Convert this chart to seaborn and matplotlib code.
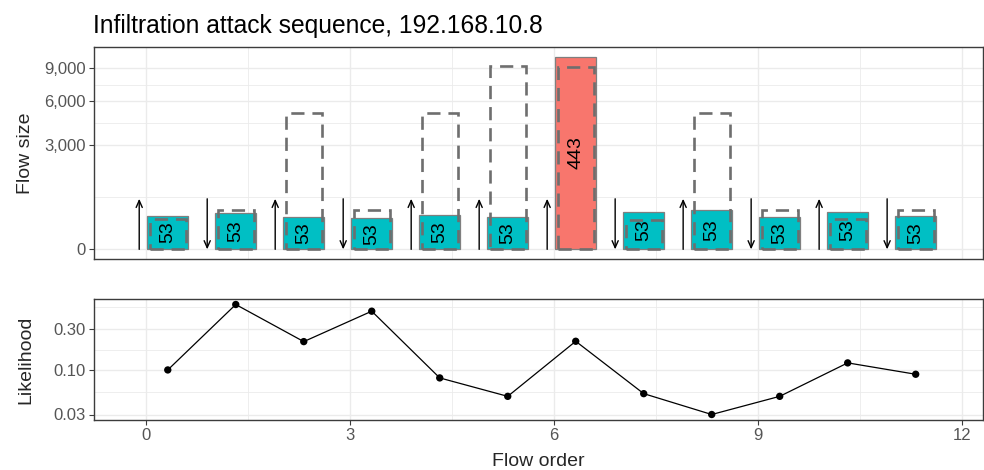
import numpy as np
import pandas as pd
import matplotlib
matplotlib.use("Agg")
import matplotlib.pyplot as plt
from matplotlib.ticker import FixedLocator, NullFormatter, FuncFormatter
import seaborn as sns

# data
flow_order = np.arange(12)
fill_size = [312, 370, 289, 264, 331, 289, 10165, 390, 417, 289, 390, 299]
outline_size = [260, 417, 5057, 417, 5057, 9200, 9070, 243, 5057, 417, 254, 417]
bar_label = [53, 53, 53, 53, 53, 53, 443, 53, 53, 53, 53, 53]
direction = ["up", "down", "up", "down", "up", "up", "up", "down", "up", "down", "up", "down"]
is_attack = [False] * 6 + [True] + [False] * 5
likelihood = [0.10, 0.586, 0.215, 0.489, 0.0806, 0.049, 0.217, 0.0527, 0.030, 0.049, 0.121, 0.089]
arrow_size = 700

size_ticks = [0, 3000, 6000, 9000]
like_ticks = [0.03, 0.1, 0.3]
order_ticks = [0, 3, 6, 9, 12]

BAR_SHIFT = 0.32
ARROW_SHIFT = -0.1

sns.set_style("white")
plt.rcParams["font.family"] = ["Liberation Sans", "DejaVu Sans"]

GRID = "#EBEBEB"
BORDER = "#3C3C3C"
TICKTXT = "#555555"

df = pd.DataFrame({
    "x": flow_order + BAR_SHIFT,
    "fill": fill_size,
    "outline": outline_size,
    "label": bar_label,
    "attack": is_attack,
    "like": likelihood,
})


def fwd(v):
    v = np.asarray(v, dtype=float)
    return np.sign(v) * np.sqrt(np.abs(v))


def inv(v):
    v = np.asarray(v, dtype=float)
    return np.sign(v) * v ** 2


fig = plt.figure(figsize=(9.84, 4.70), dpi=100)
ax1 = fig.add_axes([94 / 984, 1 - 259 / 470, 889 / 984, 212 / 470])
ax2 = fig.add_axes([94 / 984, 1 - 420 / 470, 889 / 984, 121 / 470])

xlim = (-0.765, 12.31)

# ---------- top panel: flow sizes on a sqrt scale ----------
ax1.set_yscale("function", functions=(fwd, inv))
sns.barplot(data=df, x="x", y="fill", hue="attack", native_scale=True,
            palette={False: "#00BFC4", True: "#F8766D"}, saturation=1,
            width=0.6, dodge=False, errorbar=None, legend=False,
            edgecolor="#7F7F7F", linewidth=0.9, ax=ax1, zorder=3)
ax1.bar(df["x"], df["outline"], width=0.53, fill=False, edgecolor="#6E6E6E",
        linewidth=1.9, linestyle=(0, (5, 3)), zorder=4)

for xi, h, lab in zip(df["x"], df["fill"], df["label"]):
    ax1.text(xi, h / 4, str(lab), rotation=90, ha="center", va="center",
             fontsize=14, color="black", zorder=5)

for xi, d in zip(flow_order + ARROW_SHIFT, direction):
    start, end = (0, arrow_size) if d == "up" else (arrow_size, 0)
    ax1.annotate("", xy=(xi, end), xytext=(xi, start),
                 arrowprops=dict(arrowstyle="->,head_length=0.5,head_width=0.22",
                                 color="black", lw=1.0, shrinkA=0, shrinkB=0),
                 zorder=5)

top = np.sqrt(max(fill_size + outline_size))
lo_s, hi_s = -0.05 * top, top * 1.05
ax1.set_ylim(inv(lo_s), inv(hi_s))
ax1.set_xlim(*xlim)
ax1.yaxis.set_major_locator(FixedLocator(size_ticks))
ax1.yaxis.set_major_formatter(FuncFormatter(lambda v, p: f"{int(round(v)):,}"))
s = fwd(size_ticks)
ax1.yaxis.set_minor_locator(FixedLocator(inv((s[:-1] + s[1:]) / 2)))
ax1.yaxis.set_minor_formatter(NullFormatter())
ax1.xaxis.set_major_locator(FixedLocator(order_ticks))
ax1.xaxis.set_minor_locator(FixedLocator([1.5, 4.5, 7.5, 10.5]))
ax1.tick_params(axis="x", which="both", length=0, labelbottom=False)
ax1.set_xlabel("")
ax1.set_ylabel("")

# ---------- bottom panel: likelihood on a log scale ----------
sns.lineplot(data=df, x="x", y="like", color="black", lw=0.9, ax=ax2, zorder=3)
sns.scatterplot(data=df, x="x", y="like", color="black", s=28, edgecolor="none",
                ax=ax2, zorder=4)
ax2.set_yscale("log")
lg = np.log10(likelihood)
rng = lg.max() - lg.min()
ax2.set_ylim(10 ** (lg.min() - 0.05 * rng), 10 ** (lg.max() + 0.05 * rng))
ax2.set_xlim(*xlim)
ax2.yaxis.set_major_locator(FixedLocator(like_ticks))
ax2.yaxis.set_major_formatter(FuncFormatter(lambda v, p: f"{v:.2f}"))
lt = np.log10(like_ticks + [1.0])
ax2.yaxis.set_minor_locator(FixedLocator(10 ** ((lt[:-1] + lt[1:]) / 2)))
ax2.yaxis.set_minor_formatter(NullFormatter())
ax2.xaxis.set_major_locator(FixedLocator(order_ticks))
ax2.xaxis.set_major_formatter(FuncFormatter(lambda v, p: f"{int(v)}"))
ax2.xaxis.set_minor_locator(FixedLocator([1.5, 4.5, 7.5, 10.5]))
ax2.set_xlabel("")
ax2.set_ylabel("")

for ax in (ax1, ax2):
    ax.set_facecolor("white")
    ax.grid(True, which="major", color=GRID, lw=1.0, zorder=0)
    ax.grid(True, which="minor", color=GRID, lw=0.6, zorder=0)
    ax.set_axisbelow(True)
    for sp in ax.spines.values():
        sp.set_visible(True)
        sp.set_color(BORDER)
        sp.set_linewidth(1.0)
    ax.tick_params(axis="y", which="major", length=3.7, width=0.8, color=BORDER,
                   labelsize=12, labelcolor=TICKTXT, pad=2.2, left=True)
    ax.tick_params(axis="y", which="minor", length=0)
ax2.tick_params(axis="x", which="major", length=3.7, width=0.8, color=BORDER,
                labelsize=12, labelcolor=TICKTXT, pad=2.2, bottom=True)
ax2.tick_params(axis="x", which="minor", length=0)

fig.text(93 / 984, 1 - 33.5 / 470, "Infiltration attack sequence, 192.168.10.8",
         fontsize=17.7, color="black", ha="left", va="baseline")
fig.text(26 / 984, 1 - 153 / 470, "Flow size", rotation=90, fontsize=14,
         ha="center", va="center")
fig.text(26 / 984, 1 - 359.5 / 470, "Likelihood", rotation=90, fontsize=14,
         ha="center", va="center")
fig.text(538 / 984, 1 - 461.7 / 470, "Flow order", fontsize=14,
         ha="center", va="center")

fig.savefig("out.png", dpi=100)
